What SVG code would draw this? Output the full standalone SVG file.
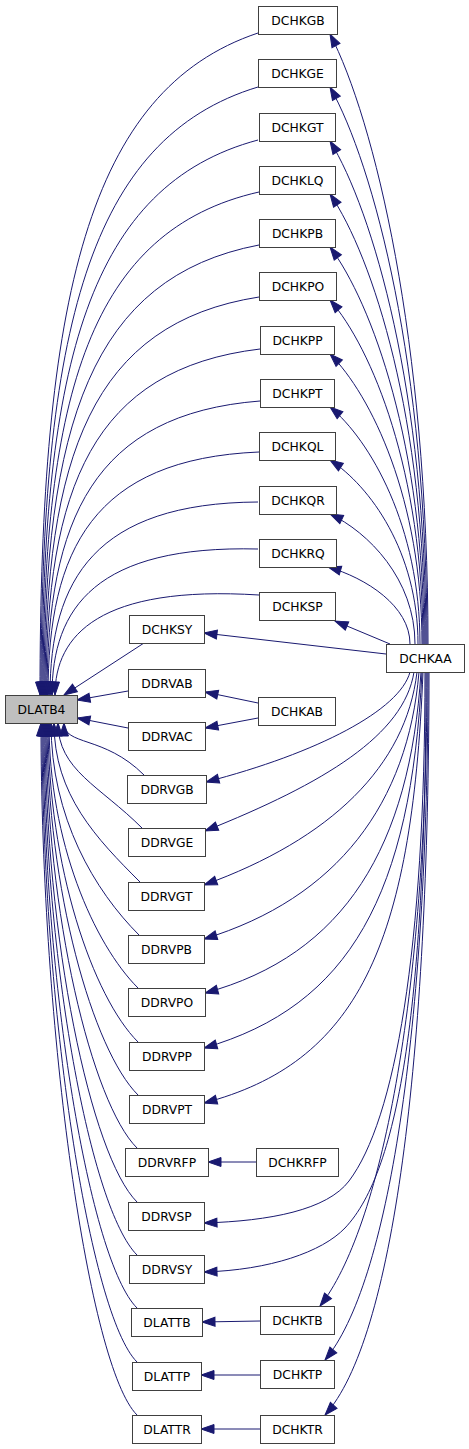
<svg xmlns="http://www.w3.org/2000/svg" width="469" height="1449" viewBox="0 0 469 1449">
<style>
.n rect{fill:#ffffff;stroke:#404040;stroke-width:1}
.hl rect{fill:#bfbfbf}
.n text{font-family:"DejaVu Sans",sans-serif;font-size:12.3px;fill:#000;text-anchor:middle}
.e path{fill:none;stroke:#191970;stroke-width:1;marker-end:url(#ah)}
</style>
<defs>
<marker id="ah" markerUnits="userSpaceOnUse" markerWidth="14" markerHeight="10" refX="13" refY="4.5" orient="auto" viewBox="0 0 14 10" overflow="visible">
<path d="M0,0 L13,4.5 L0,9 z" fill="#191970" stroke="#191970" stroke-width="1"/>
</marker>
</defs>
<rect width="469" height="1449" fill="#ffffff"/>
<g class="e" id="edges">
<path d="M258,33 C88,90 40,298 40,695"/>
<path d="M258,87 C89,138 41,330 41,695"/>
<path d="M258,140 C90,185 42,362 42,695"/>
<path d="M259,192 C91,230 43,393 43,695"/>
<path d="M259,245 C91,277 44,425 44,695"/>
<path d="M259,297 C92,323 45,456 45,695"/>
<path d="M260,349 C93,369 46,487 46,695"/>
<path d="M260,401 C94,414 47,519 47,695"/>
<path d="M259,452 C94,459 48,549 48,695"/>
<path d="M258,502 C96,503 50,579 50,695"/>
<path d="M258,549 C97,545 52,607 52,695"/>
<path d="M259,595 C100,585 55,635 55,695"/>
<path d="M144,643 L64,695"/>
<path d="M128,691 L77,700"/>
<path d="M128,728 L77,718"/>
<path d="M144,775 C104,735 64,746 64,723"/>
<path d="M142,828 C100,786 58,770 58,723"/>
<path d="M140,882 C97,839 54,795 54,723"/>
<path d="M139,935 C95,891 51,818 51,723"/>
<path d="M138,988 C94,944 49,842 49,723"/>
<path d="M138,1042 C93,997 48,867 48,723"/>
<path d="M138,1095 C93,1050 47,890 47,723"/>
<path d="M137,1148 C92,1103 46,914 46,723"/>
<path d="M137,1202 C91,1156 45,939 45,723"/>
<path d="M137,1255 C91,1209 44,962 44,723"/>
<path d="M137,1308 C90,1261 43,986 43,723"/>
<path d="M137,1362 C90,1315 42,1011 42,723"/>
<path d="M137,1415 C89,1367 41,1034 41,723"/>
<path d="M428,644 C428,339 374,119 330,34"/>
<path d="M427,644 C427,366 374,165 330,87"/>
<path d="M426,644 C426,393 373,211 330,141"/>
<path d="M425,644 C425,419 373,257 330,194"/>
<path d="M424,644 C424,446 372,303 330,247"/>
<path d="M423,644 C423,472 372,348 330,300"/>
<path d="M422,644 C422,499 371,395 330,354"/>
<path d="M420,644 C420,526 370,440 330,407"/>
<path d="M418,644 C418,552 370,486 330,460"/>
<path d="M415,644 C415,579 368,532 330,514"/>
<path d="M410,644 C410,606 366,578 328,567"/>
<path d="M390,644 L335,621"/>
<path d="M386,654 L204,633"/>
<path d="M258,703 L205,692"/>
<path d="M258,718 L205,728"/>
<path d="M410,672 C400,710 318,753 206,782"/>
<path d="M414,672 C404,735 325,783 205,831"/>
<path d="M417,672 C406,766 331,839 204,885"/>
<path d="M419,672 C408,803 338,898 204,939"/>
<path d="M421,672 C410,846 345,955 205,993"/>
<path d="M422,672 C411,894 350,1006 204,1048"/>
<path d="M423,672 C412,948 356,1063 204,1103"/>
<path d="M425,672 C425,950 395,1120 349,1181 C327,1210 270,1221 204,1223"/>
<path d="M426,672 C426,1000 400,1170 345,1228 C322,1252 270,1270 204,1272"/>
<path d="M427,672 C427,1000 380,1230 320,1306"/>
<path d="M428,672 C428,1030 388,1285 325,1360"/>
<path d="M429,672 C429,1060 393,1340 325,1415"/>
<path d="M256,1162 L208,1162"/>
<path d="M260,1321 L202,1322"/>
<path d="M260,1375 L201,1375"/>
<path d="M260,1429 L201,1429"/>
</g>
<g class="n hl" id="DLATB4"><rect x="5.5" y="695.5" width="72" height="28"/><text x="41.5" y="714">DLATB4</text></g>
<g class="n" id="DCHKGB"><rect x="258.5" y="6.5" width="79" height="28"/><text x="298" y="25">DCHKGB</text></g>
<g class="n" id="DCHKGE"><rect x="258.5" y="59.5" width="78" height="28"/><text x="297.5" y="78">DCHKGE</text></g>
<g class="n" id="DCHKGT"><rect x="259.5" y="113.5" width="76" height="28"/><text x="297.5" y="132">DCHKGT</text></g>
<g class="n" id="DCHKLQ"><rect x="259.5" y="166.5" width="76" height="28"/><text x="297.5" y="185">DCHKLQ</text></g>
<g class="n" id="DCHKPB"><rect x="259.5" y="219.5" width="76" height="28"/><text x="297.5" y="238">DCHKPB</text></g>
<g class="n" id="DCHKPO"><rect x="259.5" y="272.5" width="77" height="28"/><text x="298" y="291">DCHKPO</text></g>
<g class="n" id="DCHKPP"><rect x="260.5" y="326.5" width="74" height="28"/><text x="297.5" y="345">DCHKPP</text></g>
<g class="n" id="DCHKPT"><rect x="260.5" y="379.5" width="74" height="28"/><text x="297.5" y="398">DCHKPT</text></g>
<g class="n" id="DCHKQL"><rect x="259.5" y="432.5" width="76" height="28"/><text x="297.5" y="451">DCHKQL</text></g>
<g class="n" id="DCHKQR"><rect x="259.5" y="486.5" width="77" height="28"/><text x="298" y="505">DCHKQR</text></g>
<g class="n" id="DCHKRQ"><rect x="259.5" y="539.5" width="77" height="28"/><text x="298" y="558">DCHKRQ</text></g>
<g class="n" id="DCHKSP"><rect x="259.5" y="592.5" width="76" height="28"/><text x="297.5" y="611">DCHKSP</text></g>
<g class="n" id="DCHKAA"><rect x="386.5" y="644.5" width="78" height="28"/><text x="425.5" y="663">DCHKAA</text></g>
<g class="n" id="DCHKSY"><rect x="129.5" y="615.5" width="75" height="28"/><text x="167" y="634">DCHKSY</text></g>
<g class="n" id="DDRVAB"><rect x="128.5" y="669.5" width="77" height="28"/><text x="167" y="688">DDRVAB</text></g>
<g class="n" id="DDRVAC"><rect x="128.5" y="722.5" width="77" height="28"/><text x="167" y="741">DDRVAC</text></g>
<g class="n" id="DCHKAB"><rect x="258.5" y="697.5" width="77" height="28"/><text x="297" y="716">DCHKAB</text></g>
<g class="n" id="DDRVGB"><rect x="127.5" y="775.5" width="79" height="28"/><text x="167" y="794">DDRVGB</text></g>
<g class="n" id="DDRVGE"><rect x="128.5" y="828.5" width="77" height="28"/><text x="167" y="847">DDRVGE</text></g>
<g class="n" id="DDRVGT"><rect x="128.5" y="882.5" width="76" height="28"/><text x="166.5" y="901">DDRVGT</text></g>
<g class="n" id="DDRVPB"><rect x="128.5" y="935.5" width="76" height="28"/><text x="166.5" y="954">DDRVPB</text></g>
<g class="n" id="DDRVPO"><rect x="128.5" y="988.5" width="77" height="28"/><text x="167" y="1007">DDRVPO</text></g>
<g class="n" id="DDRVPP"><rect x="129.5" y="1042.5" width="75" height="28"/><text x="167" y="1061">DDRVPP</text></g>
<g class="n" id="DDRVPT"><rect x="129.5" y="1095.5" width="75" height="28"/><text x="167" y="1114">DDRVPT</text></g>
<g class="n" id="DDRVRFP"><rect x="125.5" y="1148.5" width="83" height="28"/><text x="167" y="1167">DDRVRFP</text></g>
<g class="n" id="DCHKRFP"><rect x="256.5" y="1148.5" width="82" height="28"/><text x="297.5" y="1167">DCHKRFP</text></g>
<g class="n" id="DDRVSP"><rect x="128.5" y="1202.5" width="76" height="28"/><text x="166.5" y="1221">DDRVSP</text></g>
<g class="n" id="DDRVSY"><rect x="129.5" y="1255.5" width="75" height="28"/><text x="167" y="1274">DDRVSY</text></g>
<g class="n" id="DLATTB"><rect x="131.5" y="1308.5" width="71" height="28"/><text x="167" y="1327">DLATTB</text></g>
<g class="n" id="DCHKTB"><rect x="260.5" y="1306.5" width="74" height="28"/><text x="297.5" y="1325">DCHKTB</text></g>
<g class="n" id="DLATTP"><rect x="132.5" y="1362.5" width="69" height="28"/><text x="167" y="1381">DLATTP</text></g>
<g class="n" id="DCHKTP"><rect x="260.5" y="1360.5" width="74" height="28"/><text x="297.5" y="1379">DCHKTP</text></g>
<g class="n" id="DLATTR"><rect x="132.5" y="1415.5" width="69" height="28"/><text x="167" y="1434">DLATTR</text></g>
<g class="n" id="DCHKTR"><rect x="260.5" y="1415.5" width="74" height="28"/><text x="297.5" y="1434">DCHKTR</text></g>
</svg>
